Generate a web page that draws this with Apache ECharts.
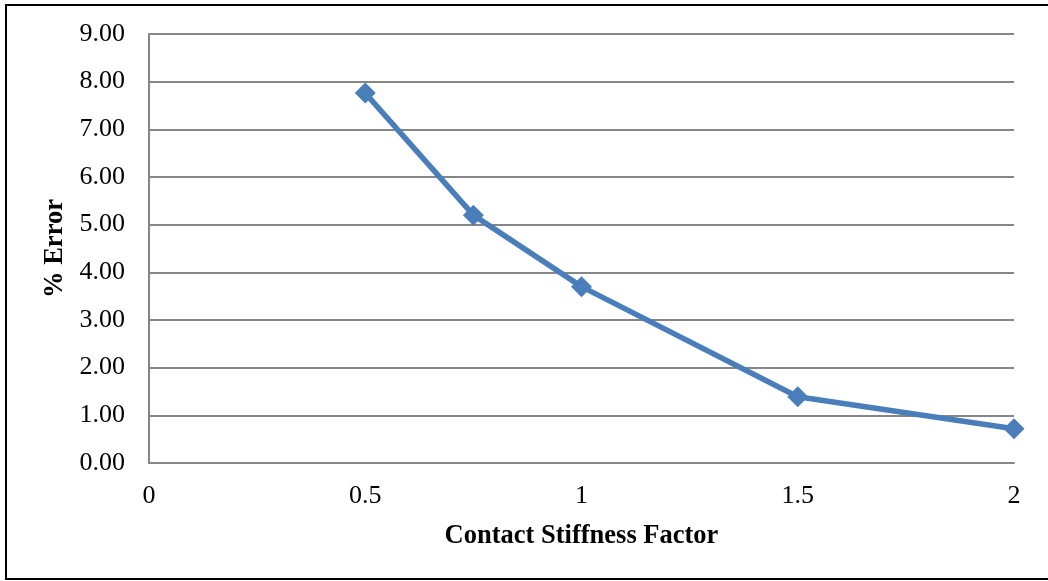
<!DOCTYPE html>
<html>
<head>
<meta charset="utf-8">
<script src="https://cdn.jsdelivr.net/npm/echarts@6/dist/echarts.min.js"></script>
<style>
html,body{margin:0;padding:0;background:#fff;}
#chart{width:1048px;height:581px;}
</style>
</head>
<body>
<div id="chart"></div>
<script>
var stiffnessFactor = [0.5, 0.75, 1, 1.5, 2];
var percentError = [7.76, 5.20, 3.70, 1.39, 0.72];
var xTicks = [0, 0.5, 1, 1.5, 2];
var yTicks = [0, 1, 2, 3, 4, 5, 6, 7, 8, 9];

var chart = echarts.init(document.getElementById('chart'), null, {renderer: 'canvas'});
var font = '"Liberation Serif", "Times New Roman", serif';
chart.setOption({
  animation: false,
  backgroundColor: '#ffffff',
  graphic: [{
    type: 'rect',
    shape: {x: 6, y: 5, width: 1060, height: 574},
    style: {fill: 'none', stroke: '#000000', lineWidth: 2},
    silent: true
  }],
  grid: {left: 149, right: 34, top: 34, bottom: 118, containLabel: false},
  xAxis: {
    type: 'value',
    min: xTicks[0],
    max: xTicks[xTicks.length - 1],
    interval: 0.5,
    name: 'Contact Stiffness Factor',
    nameLocation: 'middle',
    nameGap: 60,
    nameTextStyle: {fontFamily: font, fontSize: 26.5, fontWeight: 'bold', color: '#000'},
    axisLine: {show: true, lineStyle: {color: '#868686', width: 2}},
    axisTick: {show: false},
    splitLine: {show: false},
    axisLabel: {fontFamily: font, fontSize: 26, color: '#000', margin: 20,
      formatter: function (v) { return String(v); }}
  },
  yAxis: {
    type: 'value',
    min: yTicks[0],
    max: yTicks[yTicks.length - 1],
    interval: 1,
    name: '% Error',
    nameLocation: 'middle',
    nameGap: 77,
    nameTextStyle: {fontFamily: font, fontSize: 26.5, fontWeight: 'bold', color: '#000'},
    axisLine: {show: true, lineStyle: {color: '#868686', width: 2}},
    axisTick: {show: false},
    splitLine: {show: true, lineStyle: {color: '#868686', width: 2}},
    axisLabel: {fontFamily: font, fontSize: 26, color: '#000', margin: 24,
      formatter: function (v) { return v.toFixed(2); }}
  },
  series: [{
    type: 'line',
    data: stiffnessFactor.map(function (x, i) { return [x, percentError[i]]; }),
    symbol: 'diamond',
    symbolSize: 21,
    showAllSymbol: true,
    lineStyle: {color: '#4a7ebb', width: 5.5},
    itemStyle: {color: '#4a7ebb'}
  }]
});
</script>
</body>
</html>
